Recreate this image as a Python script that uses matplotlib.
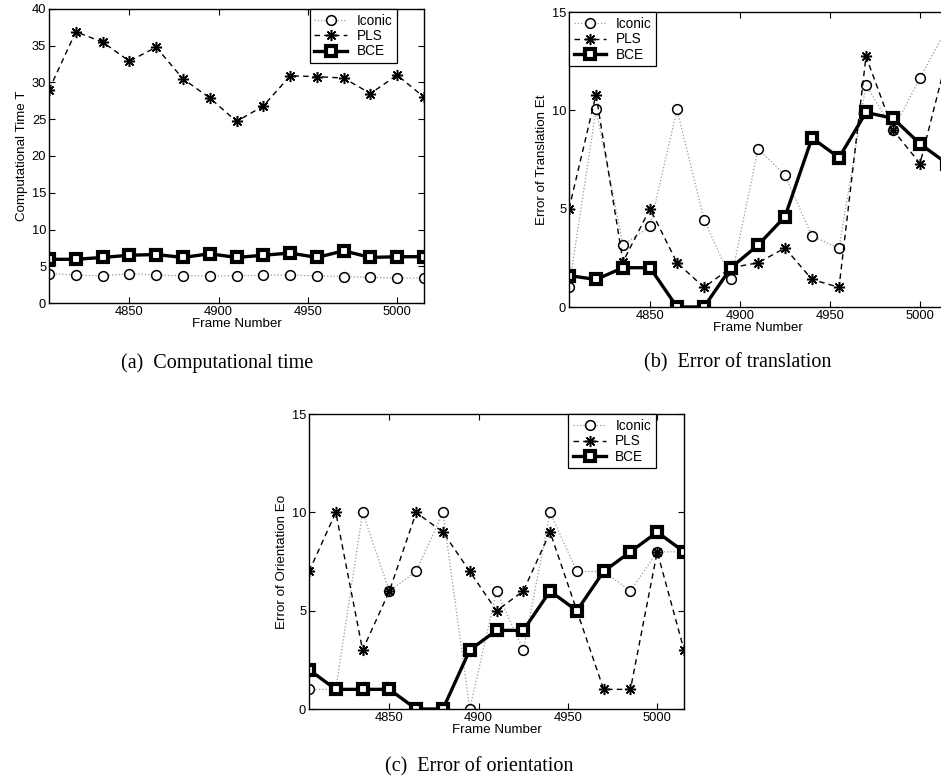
import numpy as np
import matplotlib
matplotlib.use('Agg')
import matplotlib.pyplot as plt

plt.rcParams['font.family'] = ['Liberation Sans', 'DejaVu Sans']

# Datos
frames = [4805, 4820, 4835, 4850, 4865, 4880, 4895, 4910, 4925, 4940, 4955, 4970, 4985, 5000, 5015]

time_iconic = [4.0, 3.8, 3.7, 4.0, 3.8, 3.7, 3.7, 3.7, 3.8, 3.8, 3.7, 3.6, 3.5, 3.4, 3.4]
time_pls = [29.0, 36.9, 35.5, 32.9, 34.8, 30.5, 27.9, 24.7, 26.8, 30.9, 30.8, 30.6, 28.5, 31.0, 28.0]
time_bce = [5.95, 5.95, 6.2, 6.5, 6.6, 6.2, 6.7, 6.2, 6.5, 6.8, 6.2, 7.1, 6.2, 6.3, 6.3]

trans_iconic = [1.0, 10.05, 3.15, 4.1, 10.05, 4.45, 1.4, 8.05, 6.7, 3.6, 3.0, 11.3, 9.0, 11.65, 14.2]
trans_pls = [5.0, 10.8, 2.3, 5.0, 2.25, 1.0, 2.0, 2.25, 3.0, 1.4, 1.0, 12.75, 9.0, 7.3, 12.7]
trans_bce = [1.6, 1.4, 2.0, 2.0, 0.0, 0.0, 2.0, 3.15, 4.6, 8.6, 7.6, 9.9, 9.6, 8.3, 7.3]

orient_iconic = [1, 1, 10, 6, 7, 10, 0, 6, 3, 10, 7, 7, 6, 8, 8]
orient_pls = [7, 10, 3, 6, 10, 9, 7, 5, 6, 9, 5, 1, 1, 8, 3]
orient_bce = [2, 1, 1, 1, 0, 0, 3, 4, 4, 6, 5, 7, 8, 9, 8]

fig = plt.figure(figsize=(9.41, 7.8), dpi=100)


def panel(pos, iconic, pls, bce, ymax, yticks, ylabel, legend_loc, anchor):
    ax = fig.add_axes(pos)
    ax.plot(frames, iconic, linestyle=':', color='0.6', lw=0.9,
            marker='o', ms=7, mfc='white', mec='black', mew=1.1, label='Iconic')
    ax.plot(frames, pls, linestyle='--', color='black', lw=1.0, dashes=(4, 3),
            marker=(8, 2, 0), ms=8, mec='black', mew=1.1, label='PLS')
    ax.plot(frames, bce, linestyle='-', color='black', lw=2.4,
            marker='s', ms=6.5, mfc='white', mec='black', mew=3.0, label='BCE')
    ax.set_xlim(4805, 5015)
    ax.set_ylim(0, ymax)
    ax.set_xticks([4850, 4900, 4950, 5000])
    ax.set_yticks(yticks)
    ax.tick_params(direction='in', length=4, width=0.8, labelsize=9.3, pad=2,
                   top=True, right=True)
    for s in ax.spines.values():
        s.set_linewidth(1.0)
    ax.set_xlabel('Frame Number', fontsize=9.6, labelpad=0)
    ax.set_ylabel(ylabel, fontsize=9.6, labelpad=3)
    leg = ax.legend(loc=legend_loc, bbox_to_anchor=anchor, fontsize=9.8,
                    handlelength=2.4, handletextpad=0.7, borderpad=0.35,
                    labelspacing=0.1, borderaxespad=0, fancybox=False,
                    framealpha=1)
    leg.get_frame().set_edgecolor('black')
    leg.get_frame().set_linewidth(0.9)
    return ax


panel([0.0521, 0.6115, 0.3985, 0.377], time_iconic, time_pls, time_bce,
      40, range(0, 41, 5), 'Computational Time T', 'upper right', (0.928, 1.0))
panel([0.6047, 0.6064, 0.4017, 0.378], trans_iconic, trans_pls, trans_bce,
      15, [0, 5, 10, 15], 'Error of Translation Et', 'upper left', (0.0, 1.0))
panel([0.3284, 0.0910, 0.3985, 0.378], orient_iconic, orient_pls, orient_bce,
      15, [0, 5, 10, 15], 'Error of Orientation Eo', 'upper right', (0.925, 1.0))

cap = dict(fontsize=14.5, family=['Liberation Serif', 'DejaVu Serif'],
           ha='center', va='center')
fig.text(0.2306, 0.5346, '(a)  Computational time', **cap)
fig.text(0.7843, 0.5346, '(b)  Error of translation', **cap)
fig.text(0.509, 0.0167, '(c)  Error of orientation', **cap)

fig.savefig('out.png', dpi=100)
